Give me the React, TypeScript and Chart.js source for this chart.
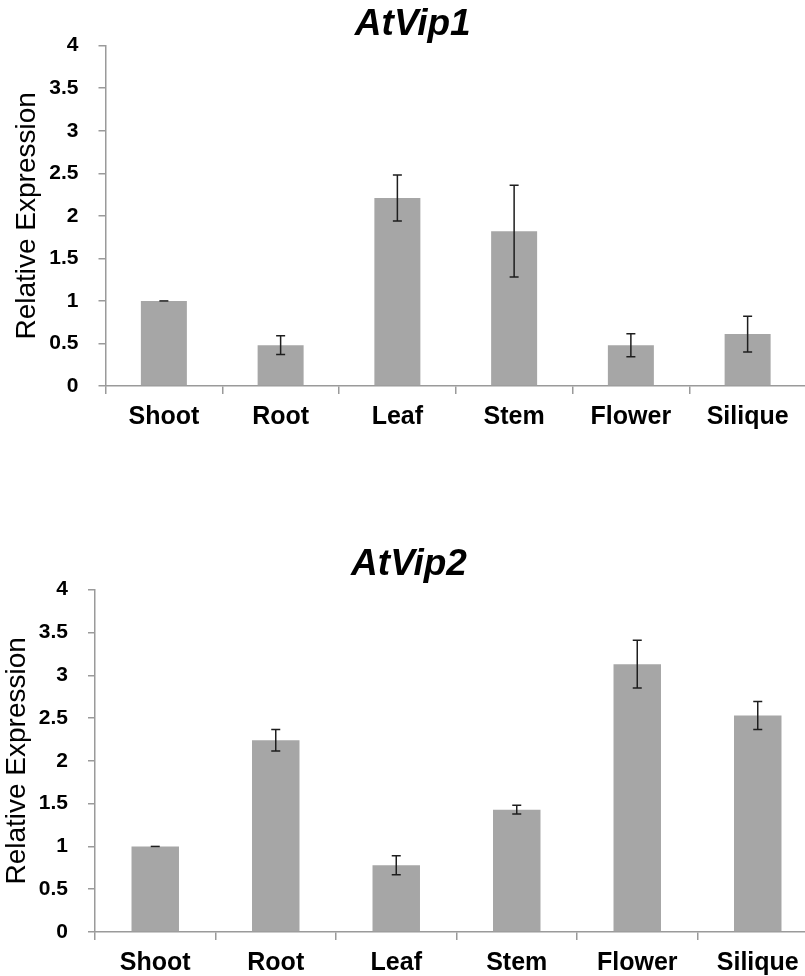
import React, { useEffect, useRef } from "react";
import { Chart, registerables } from "chart.js";

Chart.register(...registerables);

const categories = ["Shoot", "Root", "Leaf", "Stem", "Flower", "Silique"];
const vip1Values = [1.0, 0.48, 2.21, 1.82, 0.48, 0.61];
const vip1Errors = [0, 0.11, 0.27, 0.54, 0.135, 0.21];
const vip2Values = [1.0, 2.24, 0.78, 1.43, 3.13, 2.53];
const vip2Errors = [0, 0.125, 0.11, 0.05, 0.28, 0.165];
const yMin = 0;
const yMax = 4;
const yStep = 0.5;
const chartTitles = ["AtVip1", "AtVip2"];
const yAxisTitle = "Relative Expression";

const FONT = "'Liberation Sans', Arial, sans-serif";
const BAR_COLOR = "#a6a6a6";
const AXIS_COLOR = "#9a9a9a";
const ERR_COLOR = "#1e1e1e";

const errorBarPlugin = {
  id: "errorBars",
  afterDatasetsDraw(chart: any, _args: any, opts: any) {
    const errs: number[] = opts.errors || [];
    const meta = chart.getDatasetMeta(0);
    const ys = chart.scales.y;
    const vals: number[] = chart.data.datasets[0].data as number[];
    const ctx = chart.ctx;
    ctx.save();
    ctx.strokeStyle = ERR_COLOR;
    ctx.lineWidth = 1.5;
    meta.data.forEach((bar: any, i: number) => {
      const v = vals[i];
      const e = errs[i] || 0;
      const x = bar.x;
      const yTop = ys.getPixelForValue(v + e);
      const yBot = ys.getPixelForValue(v - e);
      const cap = 4.5;
      ctx.beginPath();
      if (e > 0) {
        ctx.moveTo(x, yTop);
        ctx.lineTo(x, yBot);
        ctx.moveTo(x - cap, yBot);
        ctx.lineTo(x + cap, yBot);
      }
      ctx.moveTo(x - cap, yTop);
      ctx.lineTo(x + cap, yTop);
      ctx.stroke();
    });
    ctx.restore();
  },
};

type PanelProps = {
  title: string;
  values: number[];
  errors: number[];
  top: number;
  width: number;
  height: number;
  leftPad: number;
  axisWidth: number;
  titlePadTop: number;
  titlePadBottom: number;
  yTitlePad: number;
};

function Panel(p: PanelProps) {
  const ref = useRef<HTMLCanvasElement | null>(null);
  useEffect(() => {
    if (!ref.current) return;
    const chart = new Chart(ref.current, {
      type: "bar",
      data: {
        labels: categories,
        datasets: [
          {
            data: p.values,
            backgroundColor: BAR_COLOR,
            borderWidth: 0,
            barPercentage: 0.394,
            categoryPercentage: 1,
          },
        ],
      },
      plugins: [errorBarPlugin],
      options: {
        responsive: false,
        animation: false,
        layout: { padding: { left: p.leftPad, right: 0, top: 0, bottom: 0 } },
        plugins: {
          legend: { display: false },
          tooltip: { enabled: false },
          title: {
            display: true,
            text: p.title,
            color: "#000",
            font: { family: FONT, size: 37, weight: "bold", style: "italic", lineHeight: 1.1 },
            padding: { top: p.titlePadTop, bottom: p.titlePadBottom },
          },
          errorBars: { errors: p.errors },
        } as any,
        scales: {
          x: {
            afterFit: (s: any) => {
              s.height = 52;
            },
            grid: {
              display: true,
              drawOnChartArea: false,
              drawTicks: true,
              tickLength: 8,
              color: AXIS_COLOR,
              lineWidth: 1.5,
              offset: true,
            },
            border: { display: true, color: AXIS_COLOR, width: 1.5 },
            ticks: {
              color: "#000",
              padding: 8,
              maxRotation: 0,
              autoSkip: false,
              font: { family: FONT, size: 25, weight: "bold" },
            },
          },
          y: {
            min: yMin,
            max: yMax,
            afterFit: (s: any) => {
              s.width = p.axisWidth;
            },
            grid: {
              display: true,
              drawOnChartArea: false,
              drawTicks: true,
              tickLength: 7,
              color: AXIS_COLOR,
              lineWidth: 1.5,
            },
            border: { display: true, color: AXIS_COLOR, width: 1.5 },
            ticks: {
              stepSize: yStep,
              color: "#000",
              padding: 20,
              font: { family: FONT, size: 21, weight: "bold" },
              callback: (v: any) => String(Number(v)),
            },
            title: {
              display: true,
              text: yAxisTitle,
              color: "#000",
              padding: { top: p.yTitlePad, bottom: 0 },
              font: { family: FONT, size: 28, weight: "normal" },
            },
          },
        },
      } as any,
    });
    return () => chart.destroy();
  }, []);
  return (
    <canvas
      ref={ref}
      width={p.width}
      height={p.height}
      style={{ position: "absolute", left: 0, top: p.top, display: "block" }}
    />
  );
}

export default function App() {
  return (
    <div
      style={{
        position: "absolute",
        left: 0,
        top: 0,
        width: 805,
        height: 976,
        overflow: "hidden",
        background: "#fff",
      }}
    >
      <Panel
        title={chartTitles[0]}
        values={vip1Values}
        errors={vip1Errors}
        top={0}
        width={806}
        height={438}
        leftPad={19.5}
        axisWidth={86}
        titlePadTop={4}
        titlePadBottom={1}
        yTitlePad={-9.5}
      />
      <Panel
        title={chartTitles[1]}
        values={vip2Values}
        errors={vip2Errors}
        top={544}
        width={818}
        height={440}
        leftPad={0}
        axisWidth={95}
        titlePadTop={0}
        titlePadBottom={5}
        yTitlePad={0}
      />
    </div>
  );
}
